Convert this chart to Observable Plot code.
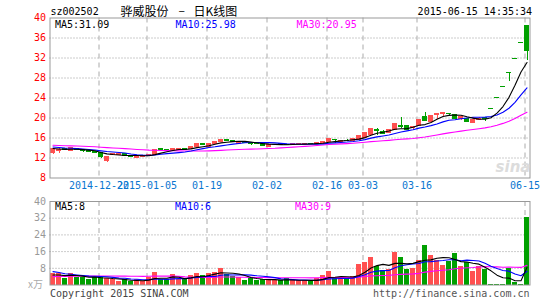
<!DOCTYPE html>
<html><head><meta charset="utf-8">
<script src="https://cdn.jsdelivr.net/npm/d3@7"></script>
<script src="https://cdn.jsdelivr.net/npm/@observablehq/plot@0.6"></script>
<style>
body{margin:0;background:#fff;}
#wrap{position:relative;width:545px;height:300px;overflow:hidden;}
#wrap svg{display:block;}
</style></head><body>
<div id="wrap"></div>
<script>
// ---------- data ----------
const dates = [
 "2014-12-10","2014-12-11","2014-12-12","2014-12-15","2014-12-16","2014-12-17","2014-12-18","2014-12-19","2014-12-22","2014-12-23",
 "2014-12-24","2014-12-25","2014-12-26","2014-12-29","2014-12-30","2014-12-31","2015-01-05","2015-01-06","2015-01-07","2015-01-08",
 "2015-01-09","2015-01-12","2015-01-13","2015-01-14","2015-01-15","2015-01-16","2015-01-19","2015-01-20","2015-01-21","2015-01-22",
 "2015-01-23","2015-01-26","2015-01-27","2015-01-28","2015-01-29","2015-01-30","2015-02-02","2015-02-03","2015-02-04","2015-02-05",
 "2015-02-06","2015-02-09","2015-02-10","2015-02-11","2015-02-12","2015-02-13","2015-02-16","2015-02-17","2015-02-25","2015-02-26",
 "2015-02-27","2015-03-02","2015-03-03","2015-03-04","2015-03-05","2015-03-06","2015-03-09","2015-03-10","2015-03-11","2015-03-12",
 "2015-03-13","2015-03-16","2015-03-17","2015-03-18","2015-03-19","2015-03-20","2015-03-23","2015-03-24","2015-03-25","2015-03-26",
 "2015-03-27","2015-03-30","2015-03-31","2015-06-05","2015-06-08","2015-06-09","2015-06-10","2015-06-11","2015-06-12","2015-06-15"];
const openP = [
 13.1,13.5,13.8,13.4,13.9,13.7,13.4,13.3,13.1,11.4,
 12.6,12.6,12.8,12.5,12.1,12.3,12.5,12.7,13.8,13.7,
 13.4,13.6,13.8,13.8,14.2,14.8,14.2,14.8,15.2,15.6,
 15.4,14.9,15.2,15.0,14.9,14.9,14.3,14.6,14.9,14.7,
 14.6,14.8,14.8,14.9,14.75,15.0,15.3,15.7,15.2,15.5,
 15.5,15.6,16.1,16.6,17.7,17.3,17.0,17.7,18.4,18.4,
 18.0,18.5,20.2,19.3,20.65,20.8,20.9,20.7,19.75,19.9,
 19.0,19.6,20.0,21.74,23.91,26.30,28.93,31.82,35.00,38.50];
const highP = [
 14.0,13.9,13.9,14.1,14.0,13.8,13.5,13.4,13.2,12.4,
 12.9,12.9,12.9,12.6,12.4,12.6,12.8,13.8,13.95,13.8,
 13.9,13.9,13.9,14.4,14.9,14.9,14.9,15.3,15.8,15.7,
 15.5,15.3,15.3,15.1,15.0,15.0,14.8,14.8,15.0,14.8,
 14.9,15.0,15.0,15.0,15.1,15.3,15.9,15.8,15.6,15.7,
 16.0,16.6,17.2,17.9,17.9,17.5,17.8,18.9,20.1,18.5,
 18.4,19.8,21.2,20.6,20.9,21.05,20.95,20.8,20.3,20.0,
 20.1,20.1,20.1,21.74,23.91,26.30,28.93,31.82,35.00,38.50];
const lowP = [
 12.8,13.0,13.5,13.3,13.6,13.2,13.1,12.9,11.9,11.2,
 12.5,12.5,12.4,12.1,12.0,12.2,12.4,12.6,13.5,13.4,
 13.3,13.5,13.6,13.7,14.1,14.5,14.1,14.7,15.1,15.3,
 15.2,14.8,14.9,14.6,14.7,14.4,14.2,14.5,14.6,14.5,
 14.5,14.7,14.7,14.7,14.7,14.9,15.2,15.0,15.1,15.3,
 15.4,15.5,16.0,16.5,16.5,16.8,16.9,17.6,17.9,17.6,
 17.8,18.4,19.3,19.2,19.8,20.4,20.5,19.8,19.6,19.1,
 18.9,19.5,19.3,21.74,23.91,26.30,27.4,31.82,35.00,31.6];
const closeP = [
 13.8,13.7,13.6,14.0,13.7,13.4,13.2,13.0,12.2,12.3,
 12.75,12.8,12.5,12.2,12.3,12.5,12.7,13.7,13.7,13.6,
 13.75,13.8,13.7,14.3,14.8,14.7,14.8,15.2,15.6,15.5,
 15.3,15.2,15.0,14.9,14.8,14.5,14.7,14.7,14.7,14.6,
 14.8,14.9,14.9,14.8,15.0,15.2,15.8,15.6,15.5,15.4,
 15.9,16.5,17.1,17.8,17.5,16.9,17.7,18.8,18.3,17.7,
 18.2,19.7,19.5,20.5,20.85,21.0,20.8,19.9,20.2,19.3,
 19.7,19.75,19.76,21.74,23.91,26.30,28.93,31.82,35.00,33.40];
const volume = [ // x万
 5.3,5.3,3.2,5.3,3.7,3.7,2.7,3.7,3.7,2.9,
 2.4,1.8,2.4,1.7,2.4,1.8,3.4,6.1,2.4,2.4,
 5.1,2.7,2.4,4.5,5.6,4.7,5.4,5.8,7.9,4.8,
 4.2,3.6,2.1,3.2,2.3,2.6,2.6,2.1,2.0,3.1,
 2.1,2.1,2.1,1.6,3.2,4.5,6.4,3.0,3.0,3.0,
 3.9,9.8,10.8,13.2,8.8,6.8,7.4,15.6,13.2,7.6,
 8.0,11.6,18.9,14.1,11.6,9.3,11.2,15.1,8.8,10.6,
 6.4,9.0,7.6,0.3,0.3,0.3,8.0,1.3,0.3,32.3];
// earlier history (before the first visible day), only used to seed the moving averages
const priorCloses = [14.9,15.0,14.8,14.9,14.7,14.6,14.8,14.9,14.7,14.6,14.5,14.7,14.8,14.6,14.7,14.6,14.8,14.7,14.5,14.4,
 14.6,14.7,14.5,14.4,14.3,14.2,14.0,13.8,13.7];
const priorVolumes = [2.5,3.0,2.8,2.6,3.2,2.9,2.7,2.5,3.1,2.8,2.6,2.9,3.0,2.7,2.8,2.9,2.6,2.8,3.0,2.6,
 9.5,9.0,8.0,7.0,6.5,5.5,4.5,4.5,4.2];

const tickDates  = ["2014-12-22","2015-01-05","2015-01-19","2015-02-02","2015-02-16","2015-03-03","2015-03-16","2015-06-15"];
const tickLabels = ["2014-12-22","2015-01-05","01-19","02-02","02-16","03-03","03-16","06-15"];
const priceTicks = [8,12,16,20,24,28,32,36,40];
const volTicks = [8,16,24,32,40];
const stockCode = "sz002502";
const stockName = "骅威股份";
const chartKind = "日K线图";
const timestamp = "2015-06-15 14:35:34";
const priceMaLabels = ["MA5:31.09","MA10:25.98","MA30:20.95"];
const volMaLabels = ["MA5:8","MA10:6","MA30:9"];
const volUnit = "x万";
const footerLeft = "Copyright 2015 SINA.COM";
const footerRight = "http://finance.sina.com.cn";

// ---------- derived table ----------
const RED = "#ff5050", GREEN = "#00a000", MA5C = "#000000", MA10C = "#0000ff", MA30C = "#ff00ff";
function movingAvg(prior, series, n) {
  const all = prior.concat(series), off = prior.length;
  return series.map((_, k) => d3.mean(all.slice(k + off - n + 1, k + off + 1)));
}
const pma5 = movingAvg(priorCloses, closeP, 5), pma10 = movingAvg(priorCloses, closeP, 10), pma30 = movingAvg(priorCloses, closeP, 30);
const vma5 = movingAvg(priorVolumes, volume, 5), vma10 = movingAvg(priorVolumes, volume, 10), vma30 = movingAvg(priorVolumes, volume, 30);
const rows = dates.map((date, k) => ({
  date, o: openP[k], h: highP[k], l: lowP[k], c: closeP[k], v: volume[k],
  col: closeP[k] > openP[k] ? RED : GREEN,
  pma5: pma5[k], pma10: pma10[k], pma30: pma30[k], vma5: vma5[k], vma10: vma10[k], vma30: vma30[k]
}));
const labelOf = Object.fromEntries(tickDates.map((d, i) => [d, tickLabels[i]]));

const MONO = '"DejaVu Sans Mono", monospace';
const xScale = {type: "band", domain: dates, paddingInner: 1/6, paddingOuter: 1/12};

// ---------- price panel ----------
const p1 = Plot.plot({
  width: 545, height: 195,
  marginLeft: 49.5, marginRight: 15.5, marginTop: 17.5, marginBottom: 17.5,
  style: {fontFamily: MONO, fontSize: "10px", background: "transparent"},
  x: xScale, y: {domain: [8, 40]}, color: {type: "identity"},
  marks: [
    Plot.gridY(priceTicks.filter(t => t > 8 && t < 40), {stroke: "#999", strokeOpacity: 1, strokeDasharray: "1,2"}),
    Plot.ruleX(tickDates, {stroke: "#aaa", strokeDasharray: "5,4", dx: -2}),
    Plot.ruleX(rows, {x: "date", y1: "l", y2: "h", stroke: "col", shapeRendering: "crispEdges"}),
    Plot.barY(rows, {x: "date", y1: "o", y2: "c", fill: "col", insetTop: -0.5, insetBottom: -0.5, shapeRendering: "crispEdges"}),
    Plot.line(rows, {x: "date", y: "pma30", stroke: MA30C, strokeWidth: 1.1}),
    Plot.line(rows, {x: "date", y: "pma10", stroke: MA10C, strokeWidth: 1.1}),
    Plot.line(rows, {x: "date", y: "pma5", stroke: MA5C, strokeWidth: 1.1}),
    Plot.axisY({ticks: priceTicks, tickSize: 0, tickPadding: 4, color: "#ff0000", label: null}),
    Plot.axisX({ticks: tickDates, tickFormat: d => labelOf[d], tickSize: 0, tickPadding: 4, dx: -2, color: "#0a76d0", label: null}),
    Plot.frame({stroke: "#999"})
  ]
});

// ---------- volume panel ----------
const p2 = Plot.plot({
  width: 545, height: 105,
  marginLeft: 49.5, marginRight: 15.5, marginTop: 6, marginBottom: 15.5,
  style: {fontFamily: MONO, fontSize: "10px", background: "transparent"},
  x: {...xScale, axis: null}, y: {domain: [0, 40]}, color: {type: "identity"},
  marks: [
    Plot.gridY(volTicks.filter(t => t < 40), {stroke: "#999", strokeOpacity: 1, strokeDasharray: "1,2"}),
    Plot.ruleX(tickDates, {stroke: "#aaa", strokeDasharray: "5,4", dx: -2}),
    Plot.barY(rows, {x: "date", y: "v", fill: "col", shapeRendering: "crispEdges"}),
    Plot.line(rows, {x: "date", y: "vma30", stroke: MA30C, strokeWidth: 1.1}),
    Plot.line(rows, {x: "date", y: "vma10", stroke: MA10C, strokeWidth: 1.1}),
    Plot.line(rows, {x: "date", y: "vma5", stroke: MA5C, strokeWidth: 1.1}),
    Plot.axisY({ticks: volTicks, tickSize: 0, tickPadding: 4, color: "#999", label: null}),
    Plot.frame({stroke: "#999"})
  ]
});

const wrap = document.getElementById("wrap");
wrap.append(p1, p2);

// ---------- text overlay ----------
const ov = d3.select(wrap).append("svg")
  .attr("width", 545).attr("height", 300)
  .style("position", "absolute").style("left", "0px").style("top", "0px")
  .style("pointer-events", "none");
const CJK = '"Noto Sans CJK SC", sans-serif';
const texts = [
  {t: stockCode, x: 50.5, y: 15, f: MONO, s: 10, c: "#000"},
  {t: stockName, x: 120.5, y: 15.5, f: CJK, s: 12, c: "#000"},
  {t: "–", x: 178.5, y: 15, f: CJK, s: 12, c: "#000"},
  {t: chartKind, x: 193.5, y: 15.5, f: CJK, s: 12, c: "#000"},
  {t: timestamp, x: 532, y: 15, f: MONO, s: 10, c: "#000", a: "end"},
  {t: priceMaLabels[0], x: 55, y: 28, f: MONO, s: 10, c: MA5C},
  {t: priceMaLabels[1], x: 175.5, y: 28, f: MONO, s: 10, c: MA10C},
  {t: priceMaLabels[2], x: 296.5, y: 28, f: MONO, s: 10, c: MA30C},
  {t: volMaLabels[0], x: 55, y: 210, f: MONO, s: 10, c: MA5C},
  {t: volMaLabels[1], x: 175, y: 210, f: MONO, s: 10, c: MA10C},
  {t: volMaLabels[2], x: 295, y: 210, f: MONO, s: 10, c: MA30C},
  {t: volUnit, x: 28, y: 288, f: CJK, s: 10, c: "#aaa"},
  {t: footerLeft, x: 50, y: 297, f: MONO, s: 10, c: "#444"},
  {t: footerRight, x: 529.5, y: 297, f: MONO, s: 10, c: "#555", a: "end"},
  {t: "sina", x: 513, y: 172, f: '"DejaVu Sans", sans-serif', s: 15, c: "#dcdcdc", a: "middle", w: "bold", st: "italic"}
];
ov.selectAll("text").data(texts).join("text")
  .attr("x", d => d.x).attr("y", d => d.y)
  .attr("text-anchor", d => d.a || "start")
  .attr("font-family", d => d.f).attr("font-size", d => d.s + "px")
  .attr("font-weight", d => d.w || "normal").attr("font-style", d => d.st || "normal")
  .attr("fill", d => d.c)
  .text(d => d.t);
</script>
</body></html>
